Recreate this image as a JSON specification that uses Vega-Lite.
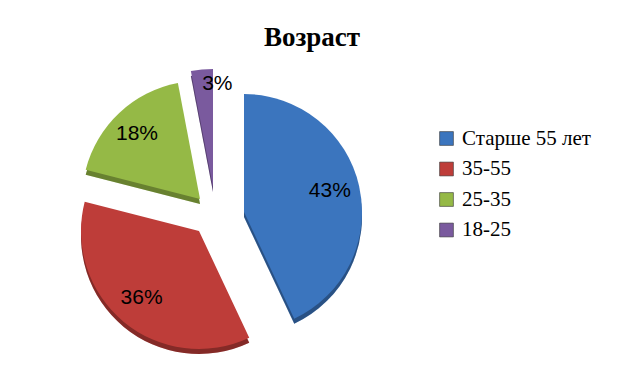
{
  "$schema": "https://vega.github.io/schema/vega-lite/v6.json",
  "autosize": {"type": "none"},
  "width": 250,
  "height": 250,
  "padding": {"left": 90, "top": 87, "right": 284, "bottom": 29},
  "background": "white",
  "config": {
    "view": {"stroke": null},
    "legend": {
      "orient": "none",
      "legendX": 346,
      "legendY": 41,
      "symbolType": "square",
      "symbolSize": 190,
      "symbolOpacity": 1,
      "symbolStrokeColor": "#333333",
      "symbolStrokeWidth": 0.6,
      "labelFont": "Liberation Serif",
      "labelFontSize": 21,
      "labelColor": "black",
      "rowPadding": 8.5,
      "labelOffset": 5
    }
  },
  "title": {
    "text": "Возраст",
    "font": "Liberation Serif",
    "fontSize": 27,
    "fontWeight": "bold",
    "color": "black",
    "anchor": "middle",
    "dx": 97,
    "offset": 17
  },
  "data": {
    "values": [
      {"group": "Старше 55 лет", "value": 43, "label": "43%", "order": 1},
      {"group": "35-55", "value": 36, "label": "36%", "order": 2},
      {"group": "25-35", "value": 18, "label": "18%", "order": 3},
      {"group": "18-25", "value": 3, "label": "3%", "order": 4}
    ]
  },
  "transform": [
    {"stack": "value", "groupby": [], "sort": [{"field": "order", "order": "ascending"}], "as": ["v0", "v1"]},
    {"calculate": "(datum.v0 + datum.v1) / 2", "as": "mid"}
  ],
  "encoding": {
    "theta": {"field": "v0", "type": "quantitative", "scale": {"domain": [0, 100]}},
    "theta2": {"field": "v1"},
    "color": {
      "field": "group",
      "type": "nominal",
      "scale": {
        "domain": ["Старше 55 лет", "35-55", "25-35", "18-25"],
        "range": ["#3b75be", "#be3d39", "#95b946", "#7a5a9e"]
      },
      "legend": {"title": null}
    }
  },
  "layer": [
    {
      "transform": [{"filter": "datum.order == 1"}],
      "layer": [
        {"mark": {"type": "arc", "outerRadius": 118, "xOffset": 29, "yOffset": 5}},
        {"mark": {"type": "arc", "outerRadius": 118, "xOffset": 29, "yOffset": 5, "fill": "black", "opacity": 0.3}},
        {"mark": {"type": "arc", "outerRadius": 118, "xOffset": 29, "yOffset": 0}},
        {"mark": {"type": "text", "radius": 88, "xOffset": 29, "yOffset": -2, "font": "Liberation Sans", "fontSize": 21}, "encoding": {"theta": {"field": "mid", "type": "quantitative"}, "theta2": null, "text": {"field": "label"}, "color": {"value": "black"}}}
      ]
    },
    {
      "transform": [{"filter": "datum.order == 2"}],
      "layer": [
        {"mark": {"type": "arc", "outerRadius": 118, "xOffset": -16, "yOffset": 24}},
        {"mark": {"type": "arc", "outerRadius": 118, "xOffset": -16, "yOffset": 24, "fill": "black", "opacity": 0.3}},
        {"mark": {"type": "arc", "outerRadius": 118, "xOffset": -16, "yOffset": 19}},
        {"mark": {"type": "text", "radius": 90, "xOffset": -16, "yOffset": 17, "font": "Liberation Sans", "fontSize": 21}, "encoding": {"theta": {"field": "mid", "type": "quantitative"}, "theta2": null, "text": {"field": "label"}, "color": {"value": "black"}}}
      ]
    },
    {
      "transform": [{"filter": "datum.order == 3"}],
      "layer": [
        {"mark": {"type": "arc", "outerRadius": 118, "xOffset": -15, "yOffset": -8}},
        {"mark": {"type": "arc", "outerRadius": 118, "xOffset": -15, "yOffset": -8, "fill": "black", "opacity": 0.3}},
        {"mark": {"type": "arc", "outerRadius": 118, "xOffset": -15, "yOffset": -13}},
        {"mark": {"type": "text", "radius": 92, "xOffset": -15, "yOffset": -11, "font": "Liberation Sans", "fontSize": 21}, "encoding": {"theta": {"field": "mid", "type": "quantitative"}, "theta2": null, "text": {"field": "label"}, "color": {"value": "black"}}}
      ]
    },
    {
      "transform": [{"filter": "datum.order == 4"}],
      "layer": [
        {"mark": {"type": "arc", "outerRadius": 118, "xOffset": -2, "yOffset": -20}},
        {"mark": {"type": "arc", "outerRadius": 118, "xOffset": -2, "yOffset": -20, "fill": "black", "opacity": 0.3}},
        {"mark": {"type": "arc", "outerRadius": 118, "xOffset": -2, "yOffset": -25}},
        {"mark": {"type": "text", "radius": 103, "xOffset": 12, "yOffset": -25, "font": "Liberation Sans", "fontSize": 21}, "encoding": {"theta": {"field": "mid", "type": "quantitative"}, "theta2": null, "text": {"field": "label"}, "color": {"value": "black"}}}
      ]
    }
  ]
}
